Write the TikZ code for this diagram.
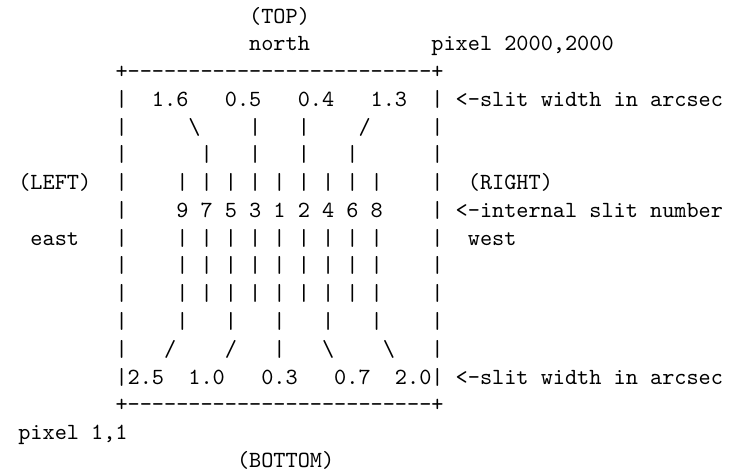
\documentclass[tikz,border=0pt]{standalone}
\usepackage{tikz}

\begin{document}
\begin{tikzpicture}[x=5.25pt,y=-12pt,
    every node/.style={font=\ttfamily,inner sep=0pt,anchor=base west}]
  \useasboundingbox (-1.47,-0.83) rectangle (59.6,16.14);
  % one unit = one character cell, one row = one line
  \node (top) at (19,0) {(TOP)};
  \node (north) at (19,1) {north};
  \node (pixhi) at (34,1) {pixel 2000,2000};
  % frame
  \node (ctl) at (8,2) {+};
  \node (ctr) at (34,2) {+};
  \node (cbl) at (8,14) {+};
  \node (cbr) at (34,14) {+};
  \foreach \c in {9,...,33} {
    \node (dt\c) at (\c,2) {-};
    \node (db\c) at (\c,14) {-};
  }
  \foreach \r in {3,...,13} {
    \node (bl\r) at (8,\r) {|};
    \node (br\r) at (34,\r) {|};
  }
  % widths at the top
  \node (w16) at (11,3) {1.6};
  \node (w05) at (17,3) {0.5};
  \node (w04) at (23,3) {0.4};
  \node (w13) at (29,3) {1.3};
  \node (wtop) at (36,3) {<-slit width in arcsec};
  \node (ta) at (14,4) {\textbackslash};
  \node (tb) at (19,4) {|};
  \node (tc) at (23,4) {|};
  \node (td) at (28,4) {/};
  \foreach \c in {15,19,23,27} \node (u\c) at (\c,5) {|};
  % the slits
  \foreach \c in {13,15,...,29} {
    \node (sa\c) at (\c,6) {|};
    \node (sb\c) at (\c,8) {|};
    \node (sc\c) at (\c,9) {|};
    \node (sd\c) at (\c,10) {|};
  }
  \foreach \n [count=\i from 0] in {9,7,5,3,1,2,4,6,8}
    \node (slit\n) at ({13+2*\i},7) {\n};
  \node (left) at (0,6) {(LEFT)};
  \node (right) at (37,6) {(RIGHT)};
  \node (inum) at (36,7) {<-internal slit number};
  \node (east) at (1,8) {east};
  \node (west) at (37,8) {west};
  \foreach \c in {13,17,21,25,29} \node (v\c) at (\c,11) {|};
  % widths at the bottom
  \node (ba) at (12,12) {/};
  \node (bb) at (17,12) {/};
  \node (bc) at (21,12) {|};
  \node (bd) at (25,12) {\textbackslash};
  \node (be) at (30,12) {\textbackslash};
  \node (w25) at (9,13) {2.5};
  \node (w10) at (14,13) {1.0};
  \node (w03) at (20,13) {0.3};
  \node (w07) at (26,13) {0.7};
  \node (w20) at (31,13) {2.0};
  \node (wbot) at (36,13) {<-slit width in arcsec};
  \node (pixlo) at (0,15) {pixel 1,1};
  \node (bottom) at (18,16) {(BOTTOM)};
\end{tikzpicture}
\end{document}
